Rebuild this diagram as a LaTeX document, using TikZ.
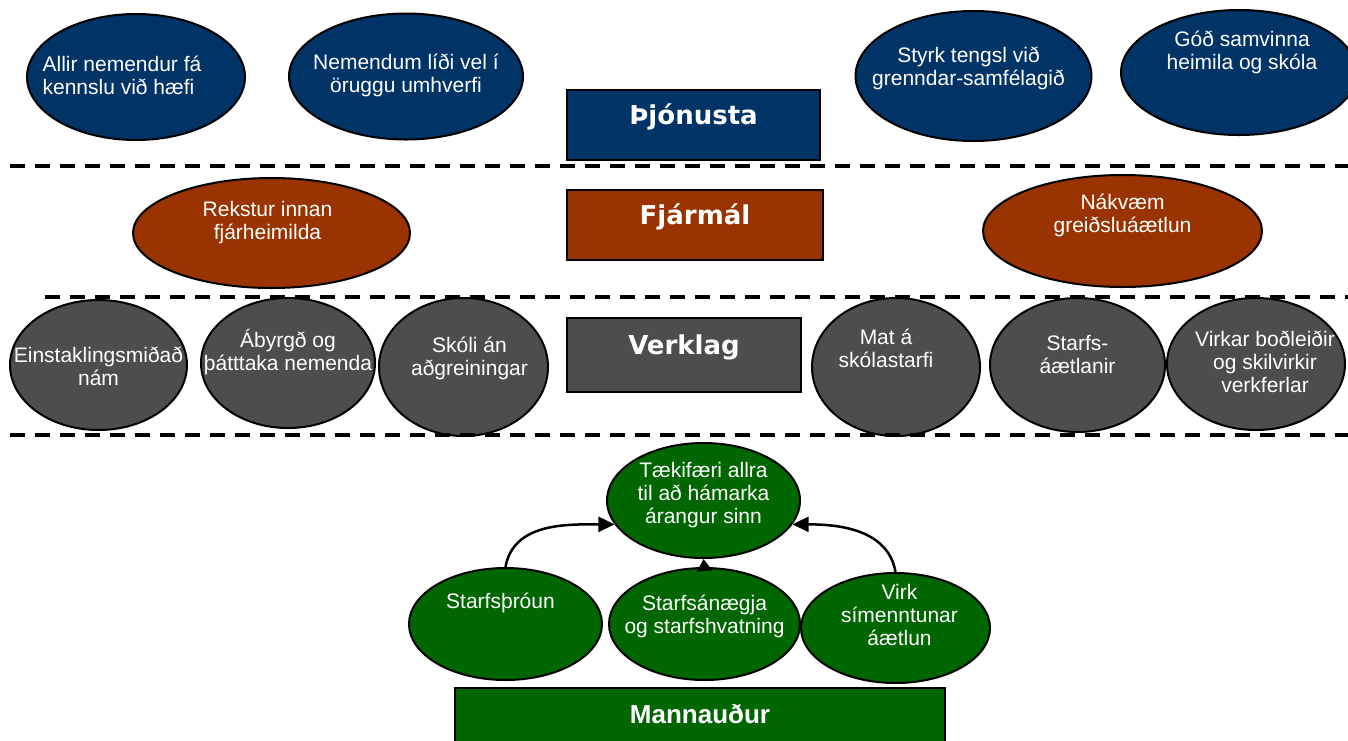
\documentclass[tikz,border=0pt]{standalone}
\usepackage{fontspec}
\setmainfont{Liberation Sans}
\newfontfamily\headfont{DejaVu Sans}
\usetikzlibrary{shapes.geometric,arrows.meta,positioning}
\definecolor{navy}{RGB}{0,51,102}
\definecolor{rust}{RGB}{153,51,0}
\definecolor{slate}{RGB}{77,77,77}
\definecolor{leaf}{RGB}{0,102,0}
\tikzset{oval/.style={ellipse,draw=black,line width=2pt,inner sep=0pt},
  ovaltext/.style={text=white,align=center,inner sep=0pt,font=\fontsize{21}{23}\selectfont}}

\begin{document}
\begin{tikzpicture}[x=1pt,y=-1pt,
    layer/.style={draw=black,line width=1.5pt,text=white,inner sep=0pt,
      text height=19pt,text depth=20pt,font=\headfont\bfseries\fontsize{26}{28}\selectfont},
    sep/.style={dash pattern=on 15pt off 10pt,line width=4pt},
    arr/.style={line width=2.5pt,-{Triangle[length=16pt,width=15pt]}}]
                \useasboundingbox (0,0) rectangle (1348,740);
                \node [oval,fill=navy,minimum width=218,minimum height=126,
                    label={[ovaltext,align=left,xshift=-14,yshift=2]center:{Allir nemendur fá\\kennslu við hæfi}}] (allir) at (136,77) {};
                \node [oval,fill=navy,minimum width=234,minimum height=126,
                    label={[ovaltext,yshift=1]center:{Nemendum líði vel í\\öruggu umhverfi}}] (lidi) at (406,76.5) {};
                \node [layer,fill=navy,minimum width=253,minimum height=70] (thjonusta) at (693.5,125) {Þjónusta};
                \node [oval,fill=navy,minimum width=236,minimum height=130,
                    label={[ovaltext,xshift=-5,yshift=7.5]center:{Styrk tengsl við\\grenndar-samfélagið}}] (styrk) at (973.5,76) {};
                \node [oval,fill=navy,minimum width=236,minimum height=125,
                    label={[ovaltext,xshift=3,yshift=20]center:{Góð samvinna\\heimila og skóla}}] (samvinna) at (1239,72.5) {};
                \node [oval,fill=rust,minimum width=277,minimum height=110,
                    label={[ovaltext,xshift=-4,yshift=10]center:{Rekstur innan\\fjárheimilda}}] (rekstur) at (271.5,233) {};
                \node [layer,fill=rust,minimum width=256,minimum height=70] (fjarmal) at (695,225) {Fjármál};
                \node [oval,fill=rust,minimum width=279,minimum height=112,
                    label={[ovaltext,yshift=15.5]center:{Nákvæm\\greiðsluáætlun}}] (nakvaem) at (1122.5,231) {};
                \node [oval,fill=slate,minimum width=177,minimum height=130,
                    label={[ovaltext,yshift=-1.5]center:{Einstaklingsmiðað\\nám}}] (einst) at (98.5,365) {};
                \node [oval,fill=slate,minimum width=174,minimum height=130,
                    label={[ovaltext,yshift=11]center:{Ábyrgð og\\þátttaka nemenda}}] (abyrgd) at (288,363) {};
                \node [oval,fill=slate,minimum width=169,minimum height=138,
                    label={[ovaltext,xshift=6,yshift=9]center:{Skóli án\\aðgreiningar}}] (skoli) at (463.5,367) {};
                \node [layer,fill=slate,minimum width=234,minimum height=74,text depth=21pt] (verklag) at (684,355) {Verklag};
                \node [oval,fill=slate,minimum width=168,minimum height=138,
                    label={[ovaltext,xshift=-10,yshift=18.5]center:{Mat á\\skólastarfi}}] (mat) at (896,367) {};
                \node [oval,fill=slate,minimum width=175,minimum height=134,
                    label={[ovaltext,yshift=10.5]center:{Starfs-\\áætlanir}}] (starfs) at (1077.5,365) {};
                \node [oval,fill=slate,minimum width=178,minimum height=132,
                    label={[ovaltext,xshift=9,yshift=2]center:{Virkar boðleiðir\\og skilvirkir\\verkferlar}}] (virkar) at (1256,364) {};
                \node [oval,fill=leaf,minimum width=193,minimum height=115,
                    label={[ovaltext,yshift=5.5]center:{Tækifæri allra\\til að hámarka\\árangur sinn}}] (taekifaeri) at (703.5,500.5) {};
                \node [oval,fill=leaf,minimum width=193,minimum height=112,
                    label={[ovaltext,xshift=-5,yshift=21]center:{Starfsþróun}}] (throun) at (505.5,624) {};
                \node [oval,fill=leaf,minimum width=191,minimum height=112,
                    label={[ovaltext,yshift=8]center:{Starfsánægja\\og starfshvatning}}] (anaegja) at (704.5,624) {};
                \node [oval,fill=leaf,minimum width=189,minimum height=110,
                    label={[ovaltext,xshift=4,yshift=13]center:{Virk\\símenntunar\\áætlun}}] (simennt) at (895.5,628) {};
                \node [layer,fill=leaf,minimum width=490,minimum height=70,text height=18.6pt,text depth=18.6pt,
                    font=\bfseries\fontsize{26}{28}\selectfont] (mannaudur) at (700,723) {Mannauður};
                \draw [arr] (throun.north) to [out=80,in=180] (taekifaeri.195);
                \draw [arr] (simennt.north) to [out=100,in=0] (taekifaeri.345);
                \draw [line width=2pt,-{Triangle[length=12pt,width=15pt]}] ([yshift=-3]anaegja.north) -- (taekifaeri.south);
                \draw [sep] (10,166) -- (1348,166);
                \draw [sep] (45,297) -- (1348,297);
                \draw [sep] (10,435) -- (1348,435);
            \end{tikzpicture}
\end{document}
